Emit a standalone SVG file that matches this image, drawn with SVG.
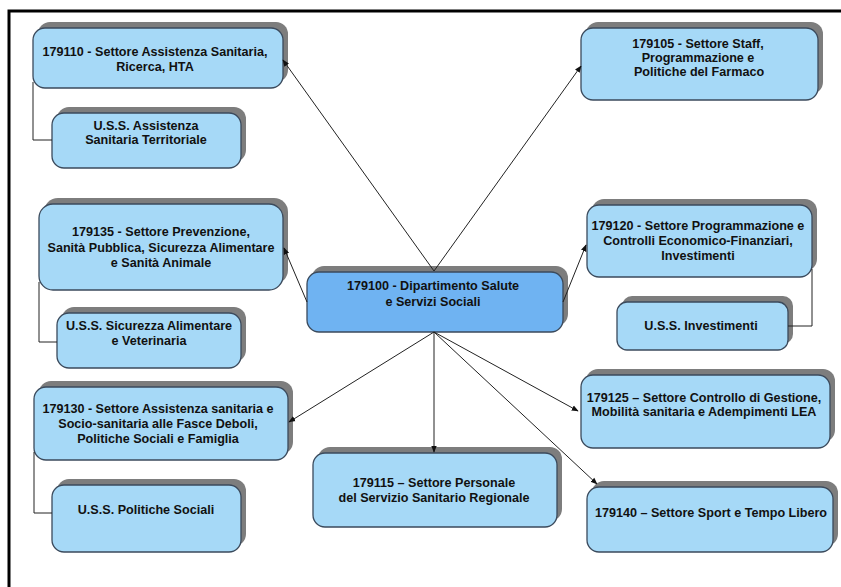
<svg xmlns="http://www.w3.org/2000/svg" width="841" height="587" viewBox="0 0 841 587">
<style>
.sh{fill:#7d7d7d}
.bx{fill:#a6d9f7;stroke:#3b4a5c;stroke-width:1.3}
.ct{fill:#6fb3f2;stroke:#3b4a5c;stroke-width:1.3}
text{font-family:"Liberation Sans",Arial,sans-serif;font-size:12.6px;font-weight:bold;fill:#111;text-anchor:middle}
.ln{fill:none;stroke:#222;stroke-width:1}
.ar{fill:none;stroke:#222;stroke-width:1;marker-end:url(#ah)}
</style>
<defs>
<marker id="ah" viewBox="0 0 10 10" refX="9" refY="5" markerWidth="7" markerHeight="7" markerUnits="userSpaceOnUse" orient="auto">
<path d="M0,1 L10,5 L0,9 Z" fill="#111"/>
</marker>
</defs>
<rect width="841" height="587" fill="#fff"/>
<g id="frame"><path d="M9,587 V11 H841" fill="none" stroke="#000" stroke-width="3"/></g>
<g id="n179110">
<rect class="sh" x="38" y="22" width="250" height="60" rx="12"/>
<rect class="bx" x="33" y="28" width="250" height="60" rx="12"/>
<text x="155" y="56">179110 - Settore Assistenza Sanitaria,</text>
<text x="155" y="70.5">Ricerca, HTA</text>
</g>
<g id="uss-ast">
<rect class="sh" x="57" y="107" width="189" height="55" rx="12"/>
<rect class="bx" x="52" y="113" width="189" height="55" rx="12"/>
<text x="146" y="130">U.S.S. Assistenza</text>
<text x="146" y="144">Sanitaria Territoriale</text>
</g>
<g id="n179105">
<rect class="sh" x="586" y="22" width="237" height="72" rx="12"/>
<rect class="bx" x="581" y="28" width="237" height="72" rx="12"/>
<text x="698" y="48">179105 - Settore Staff,</text>
<text x="698" y="62">Programmazione e</text>
<text x="699" y="76">Politiche del Farmaco</text>
</g>
<g id="n179135">
<rect class="sh" x="44" y="198" width="244" height="86" rx="14"/>
<rect class="bx" x="39" y="204" width="244" height="86" rx="14"/>
<text x="161" y="236">179135 - Settore Prevenzione,</text>
<text x="161" y="252">Sanità Pubblica, Sicurezza Alimentare</text>
<text x="161" y="267">e Sanità Animale</text>
</g>
<g id="uss-sav">
<rect class="sh" x="62" y="307" width="184" height="55" rx="12"/>
<rect class="bx" x="57" y="313" width="184" height="55" rx="12"/>
<text x="149" y="330">U.S.S. Sicurezza Alimentare</text>
<text x="149" y="345">e Veterinaria</text>
</g>
<g id="n179100">
<rect class="sh" x="312" y="266" width="256" height="60" rx="12"/>
<rect class="ct" x="307" y="272" width="256" height="60" rx="12"/>
<text x="433" y="290">179100 - Dipartimento Salute</text>
<text x="433" y="306">e Servizi Sociali</text>
</g>
<g id="n179120">
<rect class="sh" x="592" y="199" width="225" height="72" rx="12"/>
<rect class="bx" x="587" y="205" width="225" height="72" rx="12"/>
<text x="698" y="230">179120 - Settore Programmazione e</text>
<text x="698" y="245">Controlli Economico-Finanziari,</text>
<text x="698" y="260">Investimenti</text>
</g>
<g id="uss-inv">
<rect class="sh" x="622" y="296" width="171" height="48" rx="10"/>
<rect class="bx" x="617" y="302" width="171" height="48" rx="10"/>
<text x="701" y="330">U.S.S. Investimenti</text>
</g>
<g id="n179130">
<rect class="sh" x="39" y="381" width="254" height="73" rx="12"/>
<rect class="bx" x="34" y="387" width="254" height="73" rx="12"/>
<text x="158" y="413">179130 - Settore Assistenza sanitaria e</text>
<text x="158" y="428">Socio-sanitaria alle Fasce Deboli,</text>
<text x="158" y="443">Politiche Sociali e Famiglia</text>
</g>
<g id="uss-ps">
<rect class="sh" x="57" y="479" width="189" height="67" rx="12"/>
<rect class="bx" x="52" y="485" width="189" height="67" rx="12"/>
<text x="146" y="514">U.S.S. Politiche Sociali</text>
</g>
<g id="n179115">
<rect class="sh" x="318" y="447" width="244" height="74" rx="12"/>
<rect class="bx" x="313" y="453" width="244" height="74" rx="12"/>
<text x="434" y="487">179115 – Settore Personale</text>
<text x="434" y="502">del Servizio Sanitario Regionale</text>
</g>
<g id="n179125">
<rect class="sh" x="586" y="369" width="249" height="73" rx="12"/>
<rect class="bx" x="581" y="375" width="249" height="73" rx="12"/>
<text x="704" y="402">179125 – Settore Controllo di Gestione,</text>
<text x="704" y="416">Mobilità sanitaria e Adempimenti LEA</text>
</g>
<g id="n179140">
<rect class="sh" x="592" y="481" width="246" height="65" rx="12"/>
<rect class="bx" x="587" y="487" width="246" height="65" rx="12"/>
<text x="711" y="517">179140 – Settore Sport e Tempo Libero</text>
</g>
<g id="connectors">
<path class="ar" d="M434,271 L283,60"/>
<path class="ar" d="M434,271 L581,66"/>
<path class="ar" d="M307,302 L284,248"/>
<path class="ar" d="M563,302 L586,245"/>
<path class="ar" d="M434,332 L289,422"/>
<path class="ar" d="M434,332 L434,452"/>
<path class="ar" d="M434,332 L578,411"/>
<path class="ar" d="M434,332 L597,484"/>
<path class="ln" d="M33,82 V140 H52"/>
<path class="ln" d="M39,282 V342 H57"/>
<path class="ln" d="M34,452 V513 H52"/>
<path class="ln" d="M812,269 V326 H788"/>
</g>
</svg>
